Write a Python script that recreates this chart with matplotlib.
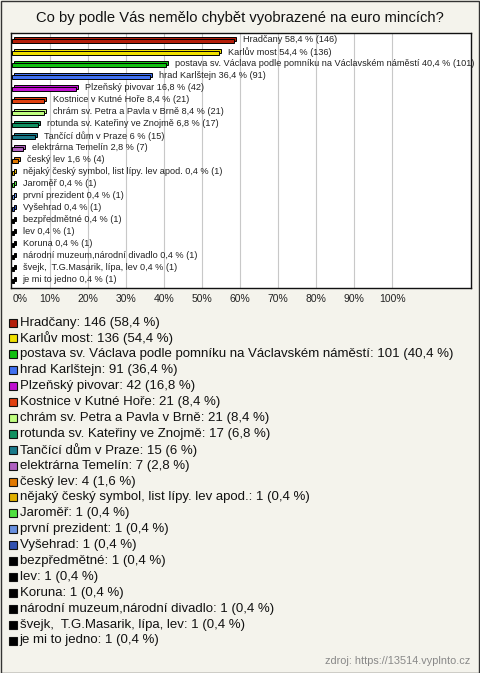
import matplotlib
matplotlib.use("Agg")
import matplotlib.pyplot as plt
from matplotlib.patches import Rectangle

plt.rcParams['font.family'] = ['Liberation Sans', 'DejaVu Sans']

title = "Co by podle Vás nemělo chybět vyobrazené na euro mincích?"
categories = [
    "Hradčany", "Karlův most",
    "postava sv. Václava podle pomníku na Václavském náměstí",
    "hrad Karlštejn", "Plzeňský pivovar", "Kostnice v Kutné Hoře",
    "chrám sv. Petra a Pavla v Brně", "rotunda sv. Kateřiny ve Znojmě",
    "Tančící dům v Praze", "elektrárna Temelín", "český lev",
    "nějaký český symbol, list lípy. lev apod.", "Jaroměř", "první prezident",
    "Vyšehrad", "bezpředmětné", "lev", "Koruna",
    "národní muzeum,národní divadlo", "švejk,  T.G.Masarik, lípa, lev",
    "je mi to jedno",
]
counts = [146, 136, 101, 91, 42, 21, 21, 17, 15, 7, 4, 1, 1, 1, 1, 1, 1, 1, 1, 1, 1]
percents = [58.4, 54.4, 40.4, 36.4, 16.8, 8.4, 8.4, 6.8, 6, 2.8, 1.6,
            0.4, 0.4, 0.4, 0.4, 0.4, 0.4, 0.4, 0.4, 0.4, 0.4]
colors = ["#b41e0a", "#f0e000", "#10c010", "#4070f0", "#c010d0", "#e04010",
          "#c0ff80", "#109060", "#1a7a8a", "#b060c0", "#e07800", "#e0b000",
          "#50e040", "#6890e0", "#3050b0", "#000000", "#000000", "#000000",
          "#000000", "#000000", "#000000"]
tick_values = [0, 10, 20, 30, 40, 50, 60, 70, 80, 90, 100]
source = "zdroj: https://13514.vyplnto.cz"

def fmt(p):
    return ("%g" % p).replace(".", ",")

W, H = 480, 673
bg = "#f4f3ec"
fig = plt.figure(figsize=(W / 100, H / 100), dpi=100, facecolor=bg)

# outer border
fig.patches.append(Rectangle((0.5 / W, 0.5 / H), 1 - 1.5 / W, 1 - 1.5 / H,
                             transform=fig.transFigure, fill=False,
                             edgecolor="#333333", linewidth=1.0))

fig.text(0.5, 1 - 18 / H, title, ha="center", va="center", fontsize=10.6,
         color="#111111")

left, right, top, bottom = 11, 471, 33, 288
ax = fig.add_axes([left / W, 1 - bottom / H, (right - left) / W, (bottom - top) / H])
ax.set_facecolor("white")
n = len(categories)
xmax = (right - left) / 38 * 10
ax.set_xlim(-0.3, xmax - 0.3)
ax.set_ylim(n - 1 + 0.67, -0.58)
for sp in ax.spines.values():
    sp.set_color("#111111")
    sp.set_linewidth(1.0)
for t in tick_values[1:]:
    ax.axvline(t, color="#c8c8c8", linewidth=0.8, zorder=0)
ax.set_xticks(tick_values)
ax.set_xticklabels([f"{t}%" for t in tick_values], fontsize=7.5, color="#222222")
ax.tick_params(axis="x", length=0, pad=4)
ax.get_xticklabels()[0].set_horizontalalignment("left")
ax.set_yticks([])

px_x = 10 / 38
px_y = 1 / 12
bh = 4 * px_y
for i, (p, c, cat, cnt) in enumerate(zip(percents, colors, categories, counts)):
    y0 = i + 0.05
    # back / top face
    ax.add_patch(Rectangle((0 + 2 * px_x, y0 - bh / 2 - 2 * px_y), p, bh,
                           facecolor=c, edgecolor="black", linewidth=0.7, zorder=2))
    # front face
    ax.add_patch(Rectangle((0, y0 - bh / 2), p, bh,
                           facecolor=c, edgecolor="black", linewidth=0.7, zorder=3))
    ax.annotate(f"{cat} {fmt(p)} % ({cnt})", xy=(p + 2 * px_x, i),
                xytext=(5, 0), textcoords="offset points", va="center",
                ha="left", fontsize=6.6, color="#222222", zorder=4)

# legend
y_start = 322.5
pitch = 15.9
for i, (p, c, cat, cnt) in enumerate(zip(percents, colors, categories, counts)):
    yc = y_start + i * pitch
    fig.patches.append(Rectangle((9 / W, 1 - (yc + 4) / H), 8 / W, 8 / H,
                                 transform=fig.transFigure, facecolor=c,
                                 edgecolor="#111111", linewidth=0.8))
    fig.text(19.5 / W, 1 - yc / H, f"{cat}: {cnt} ({fmt(p)} %)", ha="left",
             va="center", fontsize=9.5, color="#111111")

fig.text(470 / W, 1 - 661 / H, source, ha="right", va="center", fontsize=7.8,
         color="#888888")

fig.savefig("out.png", dpi=100, facecolor=bg)
